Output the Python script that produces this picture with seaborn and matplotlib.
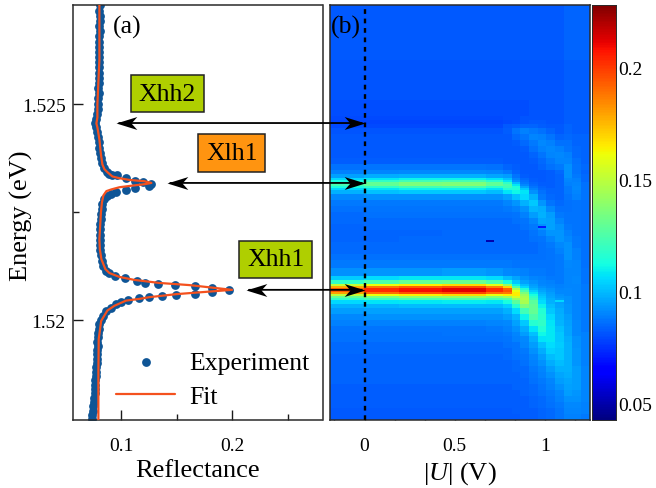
import numpy as np
import matplotlib
matplotlib.use('Agg')
import matplotlib.pyplot as plt
from matplotlib.path import Path
from matplotlib.ticker import FixedLocator
import seaborn as sns

# left panel
exp_energy = [1.52730, 1.52718, 1.52706, 1.52694, 1.52682, 1.52670, 1.52658, 1.52646, 1.52634, 1.52622,
              1.52610, 1.52598, 1.52586, 1.52574, 1.52562, 1.52550, 1.52538, 1.52526, 1.52514, 1.52502,
              1.52490, 1.52478, 1.52466, 1.52456, 1.52447, 1.52436, 1.52424, 1.52412, 1.52400, 1.52388,
              1.52376, 1.52364, 1.52352, 1.52343, 1.52338, 1.52337,
              1.52336, 1.52330, 1.52322, 1.52320, 1.52316, 1.52311, 1.52307, 1.52302, 1.52297,
              1.52293, 1.52288, 1.52280, 1.52270, 1.52258, 1.52246, 1.52234, 1.52222, 1.52210, 1.52198,
              1.52186, 1.52174, 1.52162, 1.52150, 1.52138, 1.52126, 1.52114, 1.52108, 1.52102, 1.52097,
              1.52090, 1.52087, 1.52083, 1.52081, 1.52079, 1.52075, 1.52070,
              1.52064, 1.52060, 1.52059, 1.52056, 1.52053, 1.52050,
              1.52046, 1.52042, 1.52036, 1.52028, 1.52020, 1.52010, 1.52000, 1.51990, 1.51980, 1.51970,
              1.51960, 1.51950, 1.51940, 1.51930, 1.51920, 1.51910, 1.51900, 1.51890, 1.51880, 1.51870,
              1.51860, 1.51850, 1.51840, 1.51830, 1.51820, 1.51810, 1.51800, 1.51790, 1.51780, 1.51770]
exp_reflect = [.0805, .0803, .0806, .0804, .0802, .0805, .0803, .0800, .0802, .0801,
               .0799, .0800, .0798, .0797, .0799, .0796, .0794, .0795, .0792, .0791,
               .0789, .0785, .0775, .0762, .0775, .0784, .0790, .0797, .0802, .0808,
               .0815, .0825, .0842, .0870, .0890, .0915,
               .0958, .1042, .1126, .1191, .1267, .1252, .1126, .1042, .0952,
               .0905, .0868, .0845, .0830, .0822, .0818, .0815, .0812, .0809, .0806,
               .0804, .0806, .0808, .0814, .0823, .0838, .0858, .0885, .0940, .1030,
               .1137, .1216, .1332, .1482, .1662, .1820, .1970,
               .1820, .1665, .1491, .1366, .1252, .1162,
               .1060, .1000, .0955, .0905, .0865, .0835, .0815, .0800, .0795, .0790,
               .0788, .0785, .0788, .0782, .0785, .0778, .0780, .0775, .0770, .0770,
               .0765, .0765, .0760, .0758, .0755, .0752, .0748, .0745, .0740, .0738]
fit_energy = [1.52732, 1.52604, 1.52500, 1.52470, 1.52456, 1.52447, 1.52419, 1.52384, 1.52361, 1.52350,
              1.52343, 1.52333, 1.52329, 1.52325, 1.52322, 1.52318, 1.52315, 1.52311, 1.52308, 1.52303,
              1.52299, 1.52289, 1.52273, 1.52250, 1.52188, 1.52164, 1.52141, 1.52118, 1.52109, 1.52100,
              1.52093, 1.52086, 1.52081, 1.52070, 1.52060, 1.52056, 1.52053, 1.52049, 1.52045, 1.52033,
              1.52022, 1.51998, 1.51956, 1.51880, 1.51768]
fit_reflect = [.0802, .0802, .0784, .0784, .0775, .0784, .0802, .0816, .0829, .0847,
               .0874, .0919, .0982, .1072, .1207, .1270, .1207, .1072, .0982, .0910,
               .0865, .0838, .0825, .0816, .0802, .0806, .0820, .0856, .0892, .0982,
               .1117, .1341, .1611, .1997, .1494, .1357, .1252, .1162, .1042, .0937,
               .0874, .0818, .0796, .0793, .0793]

# right panel: reflectance x 1000, one row per energy band (top to bottom),
# one column per voltage band
row_repeat = [28, 20, 8, 2, 2, 2] + [3] * 7 + [2, 2] + [1] * 6 + [2, 3] + [3] * 10 + [4, 4, 2, 2] + [1] * 8 \
    + [2, 2, 3, 3, 3, 3, 2] + [3] * 14
col_repeat = [4, 4, 5, 5, 2, 1, 1, 1, 1, 1, 1, 1, 1, 1, 1]
map_bands = [
    [82, 82, 82, 82, 82, 82, 82, 82, 82, 82, 82, 82, 84, 84, 84],
    [81, 81, 81, 81, 81, 81, 81, 81, 81, 81, 81, 81, 83, 83, 83],
    [80, 80, 80, 80, 80, 80, 80, 80, 81, 81, 81, 81, 83, 83, 83],
    [79, 79, 79, 79, 79, 80, 80, 81, 81, 81, 81, 81, 83, 83, 83],
    [78, 78, 78, 78, 78, 79, 80, 81, 82, 82, 81, 81, 83, 83, 83],
    [79, 79, 79, 79, 79, 82, 83, 84, 84, 83, 82, 82, 84, 83, 83],
    [81, 81, 81, 81, 81, 83, 87, 89, 88, 86, 84, 82, 84, 83, 83],
    [82, 82, 82, 82, 82, 82, 85, 87, 90, 89, 87, 84, 85, 84, 84],
    [82, 82, 82, 82, 82, 82, 83, 85, 88, 91, 89, 86, 86, 84, 84],
    [82, 82, 82, 82, 82, 82, 82, 83, 86, 89, 91, 89, 87, 85, 84],
    [82, 82, 82, 82, 82, 82, 82, 82, 84, 87, 90, 91, 89, 85, 84],
    [83, 83, 83, 83, 83, 82, 82, 82, 83, 85, 88, 90, 90, 86, 84],
    [86, 87, 87, 87, 86, 84, 83, 82, 82, 84, 86, 88, 92, 87, 85],
    [89, 90, 91, 91, 90, 88, 84, 82, 82, 82, 83, 85, 92, 87, 84],
    [95, 97, 98, 98, 96, 94, 87, 83, 82, 82, 83, 84, 92, 88, 85],
    [105, 108, 110, 110, 107, 101, 90, 85, 83, 82, 83, 84, 91, 89, 85],
    [113, 118, 122, 123, 117, 108, 93, 86, 83, 82, 83, 84, 90, 89, 85],
    [122, 130, 135, 136, 129, 118, 100, 88, 84, 83, 83, 84, 89, 90, 86],
    [123, 130, 136, 137, 129, 124, 108, 91, 85, 83, 83, 84, 89, 90, 86],
    [113, 118, 122, 123, 117, 122, 114, 96, 87, 84, 83, 84, 88, 91, 86],
    [105, 108, 110, 110, 107, 115, 115, 102, 89, 85, 84, 84, 88, 91, 86],
    [98, 101, 102, 102, 100, 107, 111, 107, 92, 86, 84, 84, 88, 90, 87],
    [91, 92, 92, 92, 92, 95, 101, 105, 98, 88, 85, 84, 87, 89, 87],
    [88, 88, 88, 88, 88, 90, 93, 98, 102, 93, 87, 85, 86, 87, 86],
    [86, 87, 87, 87, 87, 88, 89, 92, 99, 97, 91, 86, 86, 87, 86],
    [85, 86, 86, 86, 86, 86, 87, 89, 94, 98, 94, 88, 87, 87, 86],
    [85, 85, 85, 85, 85, 85, 86, 87, 90, 96, 95, 90, 87, 87, 86],
    [84, 85, 85, 85, 85, 85, 85, 86, 88, 92, 95, 92, 88, 87, 86],
    [84, 84, 84, 85, 85, 85, 85, 85, 87, 89, 93, 93, 89, 87, 86],
    [84, 84, 85, 85, 85, 85, 85, 85, 86, 87, 90, 93, 91, 88, 86],
    [85, 85, 85, 85, 85, 85, 85, 85, 85, 86, 88, 91, 92, 88, 86],
    [85, 85, 85, 85, 85, 85, 85, 85, 85, 86, 87, 89, 92, 89, 86],
    [86, 86, 86, 86, 86, 86, 86, 86, 86, 86, 87, 88, 92, 89, 86],
    [88, 88, 88, 88, 88, 88, 87, 87, 87, 87, 87, 88, 91, 90, 86],
    [92, 93, 93, 94, 93, 91, 90, 89, 88, 88, 87, 88, 90, 90, 87],
    [103, 106, 108, 108, 106, 100, 96, 92, 90, 89, 88, 88, 90, 91, 87],
    [118, 125, 130, 131, 125, 113, 102, 95, 92, 90, 89, 88, 90, 91, 87],
    [150, 160, 165, 168, 158, 140, 110, 100, 94, 91, 90, 89, 90, 90, 88],
    [178, 188, 193, 196, 186, 170, 125, 105, 96, 92, 91, 89, 90, 90, 88],
    [192, 203, 208, 212, 203, 192, 145, 115, 99, 94, 92, 90, 91, 90, 88],
    [192, 203, 209, 212, 203, 195, 160, 125, 103, 96, 93, 91, 91, 90, 88],
    [180, 190, 196, 198, 190, 188, 165, 135, 108, 98, 94, 91, 91, 90, 88],
    [150, 160, 165, 168, 160, 165, 165, 142, 113, 100, 95, 92, 91, 90, 88],
    [130, 135, 140, 141, 137, 142, 155, 146, 118, 102, 96, 93, 92, 90, 88],
    [118, 122, 125, 126, 124, 126, 142, 147, 122, 104, 97, 94, 92, 90, 88],
    [105, 107, 108, 109, 108, 113, 128, 145, 128, 106, 98, 95, 92, 90, 88],
    [98, 99, 100, 100, 100, 104, 116, 136, 130, 110, 100, 96, 93, 90, 88],
    [94, 95, 95, 95, 95, 98, 106, 122, 130, 115, 102, 97, 93, 90, 88],
    [91, 92, 92, 92, 92, 94, 99, 110, 125, 117, 105, 98, 94, 90, 88],
    [89, 89, 89, 89, 90, 91, 95, 102, 116, 118, 107, 99, 95, 91, 88],
    [87, 87, 87, 87, 88, 89, 92, 97, 107, 115, 108, 101, 96, 91, 88],
    [86, 86, 86, 87, 87, 88, 90, 94, 101, 111, 108, 102, 96, 91, 89],
    [86, 86, 86, 86, 86, 87, 89, 91, 97, 107, 108, 102, 97, 92, 89],
    [85, 85, 85, 85, 85, 86, 87, 90, 94, 101, 106, 103, 98, 92, 89],
    [85, 85, 85, 85, 85, 85, 87, 88, 92, 97, 104, 102, 98, 93, 89],
    [84, 84, 84, 84, 84, 85, 86, 87, 90, 94, 100, 102, 98, 93, 89],
    [84, 84, 84, 84, 84, 84, 85, 86, 89, 92, 97, 100, 98, 93, 89],
    [84, 84, 84, 84, 84, 84, 85, 85, 88, 90, 94, 98, 98, 94, 90],
    [84, 84, 84, 84, 84, 84, 84, 85, 87, 89, 92, 96, 97, 94, 90],
    [84, 84, 84, 84, 84, 84, 84, 84, 86, 88, 90, 94, 96, 94, 90],
    [83, 83, 83, 83, 83, 83, 84, 84, 85, 87, 89, 92, 95, 94, 90],
    [83, 83, 83, 83, 83, 83, 83, 84, 85, 86, 88, 90, 94, 93, 90],
    [83, 83, 83, 83, 83, 83, 83, 83, 84, 85, 87, 89, 92, 92, 90],
    [83, 83, 83, 83, 83, 83, 83, 83, 84, 85, 86, 88, 91, 91, 89],
    [82, 82, 82, 82, 82, 82, 83, 83, 83, 84, 85, 87, 90, 90, 89],
    [82, 82, 82, 82, 82, 82, 82, 83, 83, 84, 85, 87, 89, 89, 88],
]
# stray pixels in the map
speck_volt = [0.689, 0.994, 1.092]
speck_energy = [1.52183, 1.52216, 1.52045]
speck_value = [0.05, 0.07, 0.105]

energy_top, energy_bottom = 1.52732, 1.51768
volt_left, volt_right = -0.194, 1.247
refl_left, refl_right = 0.056, 0.281
cbar_low, cbar_high = 0.0424, 0.2282

energy_major = [1.52, 1.525]
energy_minor = [1.5225]
refl_major = [0.1, 0.2]
refl_minor = [0.15, 0.25]
volt_major = [0, 0.5, 1]
volt_minor = [1/6, 2/6, 4/6, 5/6, 7/6, -1/6]
cbar_major = [0.05, 0.1, 0.15, 0.2]
cbar_minor = [0.075, 0.125, 0.175, 0.225]

sns.set_theme(style='ticks')
plt.rcParams['font.family'] = ['Liberation Serif', 'DejaVu Serif']
plt.rcParams['mathtext.fontset'] = 'custom'
plt.rcParams['mathtext.rm'] = 'Liberation Serif'
plt.rcParams['mathtext.it'] = 'Liberation Serif:italic'
plt.rcParams['axes.linewidth'] = 1.1
plt.rcParams['axes.edgecolor'] = '#2a2a2a'
plt.rcParams['text.color'] = 'black'
plt.rcParams['axes.labelcolor'] = 'black'
plt.rcParams['xtick.labelcolor'] = 'black'
plt.rcParams['ytick.labelcolor'] = 'black'
plt.rcParams['xtick.color'] = '#1a1a1a'
plt.rcParams['ytick.color'] = '#1a1a1a'

W, H = 656, 489
fig = plt.figure(figsize=(W / 100, H / 100), dpi=100)


def px_axes(x0, x1, y0, y1):
    return fig.add_axes([x0 / W, 1 - y1 / H, (x1 - x0) / W, (y1 - y0) / H])


ax1 = px_axes(72.5, 322.5, 5.5, 421)
ax2 = px_axes(329.5, 589.5, 5.5, 421)
cax = px_axes(592, 615.5, 5.5, 421)

# (a) reflectance spectrum
blue = '#0f5596'
red = '#f4511e'
sns.scatterplot(x=exp_reflect, y=exp_energy, ax=ax1, s=40, color=blue, linewidth=0, label='Experiment', zorder=2)
sns.lineplot(x=fit_reflect, y=fit_energy, ax=ax1, sort=False, estimator=None, color=red, lw=1.6, label='Fit', zorder=3)
ax1.set_xlim(refl_left, refl_right)
ax1.set_ylim(energy_bottom, energy_top)
ax1.set_xlabel('Reflectance', fontsize=19, labelpad=4)
ax1.set_ylabel('Energy (eV)', fontsize=19)
ax1.yaxis.set_label_coords(-0.158, 0.495)
ax1.xaxis.set_major_locator(FixedLocator(refl_major))
ax1.xaxis.set_minor_locator(FixedLocator(refl_minor))
ax1.yaxis.set_major_locator(FixedLocator(energy_major))
ax1.yaxis.set_minor_locator(FixedLocator(energy_minor))
ax1.set_xticklabels(['0.1', '0.2'])
ax1.set_yticklabels(['1.52', '1.525'])
ax1.legend(loc='lower left', bbox_to_anchor=(0.129, 0.0), frameon=False, fontsize=18.5,
           handlelength=2.3, handletextpad=0.55, labelspacing=0.45, borderaxespad=0.05)
ax1.text(0.22, 0.948, '(a)', transform=ax1.transAxes, fontsize=18.5, va='center', ha='center')

# (b) voltage map
cells = np.repeat(np.repeat(np.array(map_bands) / 1000, row_repeat, axis=0), col_repeat, axis=1)
n_rows, n_cols = cells.shape


def volt_pos(u):
    return (np.asarray(u) - volt_left) / (volt_right - volt_left) * n_cols


def energy_pos(e):
    return (energy_top - np.asarray(e)) / (energy_top - energy_bottom) * n_rows


for u, e, v in zip(speck_volt, speck_energy, speck_value):
    cells[int(energy_pos(e)), int(volt_pos(u))] = v

sns.heatmap(cells, ax=ax2, cmap='jet', vmin=cbar_low, vmax=cbar_high, cbar_ax=cax,
            xticklabels=False, yticklabels=False, rasterized=True)

ax2.xaxis.set_major_locator(FixedLocator(volt_pos(volt_major)))
ax2.xaxis.set_minor_locator(FixedLocator(volt_pos(volt_minor)))
ax2.yaxis.set_major_locator(FixedLocator(energy_pos(energy_major)))
ax2.yaxis.set_minor_locator(FixedLocator(energy_pos(energy_minor)))
ax2.set_xticklabels(['0', '0.5', '1'])
ax2.set_yticklabels([])
ax2.set_xlabel(r'$|\mathit{U}|$ (V)', fontsize=19, labelpad=4)
ax2.set_ylabel('')
for s in ax2.spines.values():
    s.set_visible(True)
ax2.axvline(volt_pos(0), color='black', lw=1.7, ls=(0, (2, 2)), zorder=4)
ax2.text(0.063, 0.948, '(b)', transform=ax2.transAxes, fontsize=18.5, va='center', ha='center')

for ax in (ax1, ax2):
    ax.tick_params(which='major', direction='in', length=7, width=1.0, labelsize=14, pad=12, top=False, right=False)
    ax.tick_params(which='minor', direction='in', length=4, width=1.0, top=False, right=False)
    ax.tick_params(axis='y', pad=5)

# colour bar
cax.yaxis.set_major_locator(FixedLocator(cbar_major))
cax.yaxis.set_minor_locator(FixedLocator(cbar_minor))
cax.set_yticklabels(['0.05', '0.1', '0.15', '0.2'])
cax.tick_params(which='major', axis='y', direction='in', length=7, width=1.0, labelsize=14, pad=2, right=True, left=False)
cax.tick_params(which='minor', axis='y', direction='in', length=4, width=1.0, right=True, left=False)
for s in cax.spines.values():
    s.set_visible(True)
    s.set_linewidth(0.6)

# exciton labels with arrows to the U=0 line
labels = ['Xhh2', 'Xlh1', 'Xhh1']
label_refl = [0.1415, 0.1995, 0.2388]
label_energy = [1.52525, 1.52387, 1.52141]
label_colors = ['#afcf00', '#ff9410', '#afcf00']
arrow_refl = [0.0955, 0.1415, 0.2123]
arrow_energy = [1.52457, 1.52318, 1.52070]

# barbed arrow head with its tip on the origin
head_right = Path([(0, 0), (-1, 0.31), (-0.72, 0), (-1, -0.31), (0, 0)], closed=True)
head_left = Path([(0, 0), (1, 0.31), (0.72, 0), (1, -0.31), (0, 0)], closed=True)

ax1.set_zorder(5)
for name, lx, ly, c in zip(labels, label_refl, label_energy, label_colors):
    ax1.text(lx, ly, name, fontsize=18.5, ha='center', va='center', zorder=6,
             bbox=dict(boxstyle='square,pad=0.3', fc=c, ec='#222222', lw=1.1))
for a_r, a_e in zip(arrow_refl, arrow_energy):
    ax1.annotate('', xy=(volt_pos(0), energy_pos(a_e)), xycoords=ax2.transData,
                 xytext=(a_r, a_e), textcoords=ax1.transData, annotation_clip=False, zorder=7,
                 arrowprops=dict(arrowstyle='-', color='black', lw=1.3, shrinkA=2, shrinkB=2))
    ax1.plot([a_r], [a_e], marker=head_left, ms=30, color='black', mew=0, clip_on=False, zorder=8)
    ax2.plot([volt_pos(0)], [energy_pos(a_e)], marker=head_right, ms=30, color='black', mew=0, zorder=8)

fig.savefig('out.png', dpi=100)
